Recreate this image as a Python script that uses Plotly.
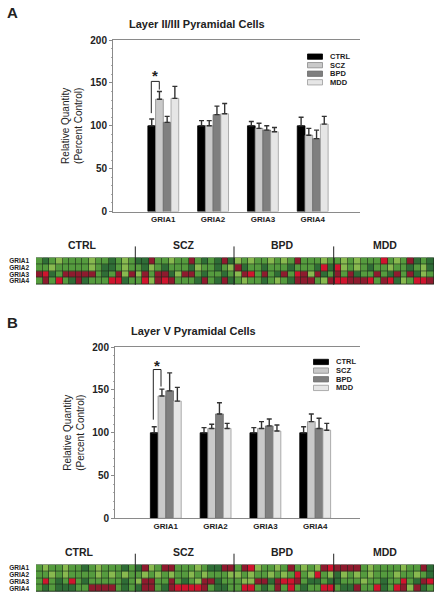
import plotly.graph_objects as go

W, H = 437, 600
genes = ["GRIA1", "GRIA2", "GRIA3", "GRIA4"]
series = ["CTRL", "SCZ", "BPD", "MDD"]
fills = ["#000000", "#c9c9c9", "#7f7f7f", "#e6e6e6"]
edges = ["#000000", "#8a8a8a", "#6a6a6a", "#9a9a9a"]

# mean values by series (order: GRIA1..GRIA4)
a_ctrl = [100, 100, 100, 100]
a_scz = [131, 100, 97, 89]
a_bpd = [104, 113, 95, 85]
a_mdd = [132, 114, 93, 102]
a_ctrl_err = [8, 6, 5, 10]
a_scz_err = [9, 6, 6, 8]
a_bpd_err = [7, 10, 5, 10]
a_mdd_err = [14, 12, 5, 9]

b_ctrl = [100, 100, 100, 100]
b_scz = [143, 105, 105, 113]
b_bpd = [149, 122, 108, 105]
b_mdd = [137, 105, 102, 103]
b_ctrl_err = [7, 6, 6, 7]
b_scz_err = [8, 5, 8, 9]
b_bpd_err = [21, 13, 8, 12]
b_mdd_err = [16, 6, 7, 8]

# heat-map cell levels:
# 1 light green, 2 mid green, 3 dark green, 4 dark red, 5 bright red
heat_a = [
    "232122221223212" "334221224232343" "121221212422212" "212122252124323",
    "221222221233212" "231232223122321" "432232223222353" "512123221223213",
    "453244444232414" "142443144232232" "145242342541432" "424322423424312",
    "242523432225532" "251454222342343" "212232123444214" "554445245312554",
]
heat_b = [
    "212212232122232" "341244222123344" "245122124212145" "444421222212243",
    "221212222121212" "212121221212221" "121221212521521" "312121222122123",
    "252325232222232" "144224232144322" "211443455423323" "322212232252345",
    "232333224444232" "344234555542332" "255232425232255" "233422532541432",
]
heat_scale = [
    [0.0, "#88b94f"], [0.25, "#559b3e"], [0.5, "#2f6d36"],
    [0.75, "#8e1b2e"], [1.0, "#d0142e"],
]
group_labels = ["CTRL", "SCZ", "BPD", "MDD"]

FONT = "Liberation Sans, Arial, sans-serif"
TXT = "#222222"


def px(x):
    return x / W


def py(y):
    return 1 - y / H


fig = go.Figure()


def add_bars(vals, errs, xa, ya):
    for name, v, e, f, ed in zip(series, vals, errs, fills, edges):
        fig.add_trace(go.Bar(
            x=list(range(4)), y=v, name=name, xaxis=xa, yaxis=ya, showlegend=False,
            marker=dict(color=f, line=dict(color=ed, width=0.8)),
            error_y=dict(type="data", symmetric=False, array=e, arrayminus=[0] * 4,
                         color="#333333", thickness=1.4, width=2.5),
        ))


add_bars([a_ctrl, a_scz, a_bpd, a_mdd], [a_ctrl_err, a_scz_err, a_bpd_err, a_mdd_err], "x", "y")
add_bars([b_ctrl, b_scz, b_bpd, b_mdd], [b_ctrl_err, b_scz_err, b_bpd_err, b_mdd_err], "x2", "y2")


def add_heat(rows, xa, ya):
    fig.add_trace(go.Heatmap(
        z=[[int(c) for c in r] for r in rows], y=genes, xaxis=xa, yaxis=ya,
        zmin=1, zmax=5, colorscale=heat_scale, showscale=False, xgap=0.6, ygap=0.6,
    ))


add_heat(heat_a, "x3", "y3")
add_heat(heat_b, "x4", "y4")

shapes, ann = [], []


def text(x, y, s, size, bold=True, anchor="center", color=TXT):
    ann.append(dict(xref="paper", yref="paper", x=px(x), y=py(y), text=f"<b>{s}</b>" if bold else s,
                    showarrow=False, xanchor=anchor, yanchor="middle",
                    font=dict(family=FONT, size=size, color=color)))


def line(x0, y0, x1, y1, color="#222222", width=1):
    shapes.append(dict(type="line", xref="paper", yref="paper", x0=px(x0), y0=py(y0), x1=px(x1), y1=py(y1),
                       line=dict(color=color, width=width)))


# legends
def legend(x, y0, dy):
    for i, (s, f, ed) in enumerate(zip(series, fills, edges)):
        yy = y0 + i * dy
        shapes.append(dict(type="rect", xref="paper", yref="paper", x0=px(x), x1=px(x + 15),
                           y0=py(yy - 2.7), y1=py(yy + 2.7), fillcolor=f, line=dict(color=ed, width=0.8)))
        text(x + 20, yy, s, 7.5, anchor="left")


legend(307.5, 52.5, 8.7)
legend(313.5, 363, 8.8)

# panel and chart titles
text(12, 8, "A", 15)
text(12, 323, "B", 15)
text(196.5, 19.5, "Layer II/III Pyramidal Cells", 11)
text(193.5, 332, "Layer V Pyramidal Cells", 11)

# significance brackets
for pts in [[(151.3, 110), (151.3, 77.7), (159.3, 77.7), (159.3, 86)],
            [(153.3, 421.7), (153.3, 370.7), (161, 370.7), (161, 388)]]:
    for p, q in zip(pts, pts[1:]):
        line(p[0], p[1], q[0], q[1], width=1)
text(155.3, 72, "*", 15)
text(157.2, 367, "*", 15)

# group labels over the heat maps
for ylab, first in [(244, 82), (556, 79)]:
    for xlab, s in zip([first, 184, 282, 385], group_labels):
        text(xlab, ylab, s, 10.5)

# dark backing for heat-map grid
for y0, y1 in [(256.7, 284.3), (569, 596.7)]:
    shapes.append(dict(type="rect", xref="paper", yref="paper", layer="below", x0=px(36), x1=px(434),
                       y0=py(y0), y1=py(y1), fillcolor="#1c2a1c", line=dict(width=0)))
for ytop, ybot in [(245.5, 284.5), (558, 597)]:
    for xd in [135.3, 234, 333.7]:
        line(xd, ytop, xd, ybot, color="#222222", width=1)

bar_x = dict(
    tickmode="array", tickvals=list(range(4)), ticktext=[f"<b>{g}</b>" for g in genes],
    showline=True, linecolor="#8a8a8a", linewidth=1.2, mirror=True, ticks="",
    tickfont=dict(family=FONT, size=8, color=TXT), showgrid=False, zeroline=False,
)
bar_y = dict(
    range=[0, 200], tickvals=[0, 50, 100, 150, 200], ticktext=[f"<b>{v}</b>" for v in [0, 50, 100, 150, 200]],
    showline=True, linecolor="#8a8a8a", linewidth=1, ticks="outside", ticklen=3, tickcolor="#8a8a8a",
    minor=dict(ticks="outside", ticklen=1.5, dtick=10, tickcolor="#aaaaaa"),
    tickfont=dict(family=FONT, size=10, color=TXT), showgrid=False, zeroline=False,
    title=dict(text="Relative Quantity<br>(Percent Control)", font=dict(family=FONT, size=10, color=TXT), standoff=5),
)
heat_x = dict(range=[-0.5, 59.5], showticklabels=False, ticks="", showgrid=False, zeroline=False, showline=False)
heat_y = dict(autorange="reversed", ticks="", showgrid=False, zeroline=False, showline=False, ticklabelstandoff=6,
              tickfont=dict(family=FONT, size=6.5, color=TXT), tickmode="array", tickvals=genes,
              ticktext=[f"<b>{g}</b>" for g in genes])

fig.update_layout(
    width=W, height=H, margin=dict(l=0, r=0, t=0, b=0), autosize=False,
    paper_bgcolor="white", plot_bgcolor="white", barmode="group", bargap=0.38, bargroupgap=0,
    showlegend=False, shapes=shapes, annotations=ann,
    xaxis=dict(bar_x, domain=[px(113), px(360)], range=[-1.01, 3.95], anchor="y"),
    yaxis=dict(bar_y, domain=[py(210), py(35.7)], anchor="x"),
    xaxis2=dict(bar_x, domain=[px(115), px(360)], range=[-1.02, 3.9], anchor="y2"),
    yaxis2=dict(bar_y, domain=[py(522), py(348)], anchor="x2"),
    xaxis3=dict(heat_x, domain=[px(36), px(434)], anchor="y3"),
    yaxis3=dict(heat_y, domain=[py(284.3), py(256.7)], anchor="x3"),
    xaxis4=dict(heat_x, domain=[px(36), px(434)], anchor="y4"),
    yaxis4=dict(heat_y, domain=[py(596.7), py(569)], anchor="x4"),
)

fig.write_html("out.html", config=dict(displayModeBar=False),
               post_script="document.body.style.margin='0';document.documentElement.style.overflow='hidden';")
